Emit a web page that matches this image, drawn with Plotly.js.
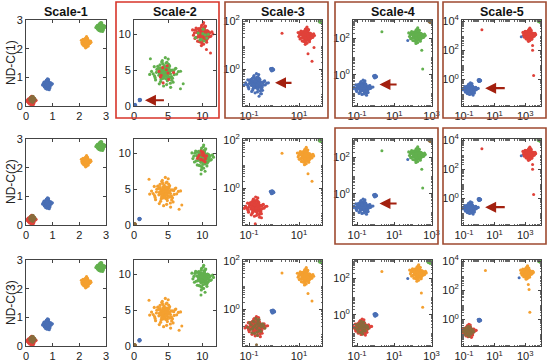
<!DOCTYPE html>
<html><head><meta charset="utf-8">
<script src="https://cdn.plot.ly/plotly-3.0.1.min.js"></script>
<style>html,body{margin:0;padding:0;background:#fff}#chart{width:550px;height:363px}</style>
</head><body><div id="chart"></div>
<script>
// ---------------- data ----------------
const COL_TITLES = ['Scale-1','Scale-2','Scale-3','Scale-4','Scale-5'];
const ROW_LABELS = ['ND-C(1)','ND-C(2)','ND-C(3)'];
const AX_TYPE = ['linear','linear','log','log','log'];
const X_RANGE = [[0,3],[0,12],[-1.24,1.92],[-1.22,3.02],[-1.13,4.03]];
const Y_RANGE = [[0,3],[0,12],[-1.5,2.03],[-1.73,3.03],[-1.82,4.07]];
const X_TICKVALS = [[0,1,2,3],[0,5,10],[0.1,10],[0.1,10,1000],[0.1,10,1000]];
const X_TICKTEXT = [['0','1','2','3'],['0','5','10'],['10<sup>-1</sup>','10<sup>1</sup>'],
  ['10<sup>-1</sup>','10<sup>1</sup>','10<sup>3</sup>'],['10<sup>-1</sup>','10<sup>1</sup>','10<sup>3</sup>']];
const Y_TICKVALS = [[0,1,2,3],[0,5,10],[1,100],[1,100],[1,100,10000]];
const Y_TICKTEXT = [['0','1','2','3'],['0','5','10'],['10<sup>0</sup>','10<sup>2</sup>'],
  ['10<sup>0</sup>','10<sup>2</sup>'],['10<sup>0</sup>','10<sup>2</sup>','10<sup>4</sup>']];

// hand-read scatter shape of one cluster (normalised offsets)
const OFF_X = [0.05,-0.12,0.31,-0.44,0.18,0.62,-0.71,0.09,-0.25,0.47,
  -0.03,0.22,-0.58,0.39,-0.17,0.83,-0.36,0.11,-0.92,0.27,
  0.54,-0.08,-0.49,0.71,0.02,-0.29,0.15,-0.64,0.43,-0.19,
  0.36,-0.05,0.58,-0.81,0.24,-0.41,0.07,0.95,-0.33,0.13,
  -0.55,0.66,-0.14,0.29,-0.73,0.48,-0.02,0.19,-0.38,0.77,
  -0.26,0.34,-0.1,0.52,-0.67,0.04,1.1,-1.05,0.41,-0.21,
  0.02,-0.06,0.1,-0.13,0.07,-0.01,0.15,-0.09,0.04,-0.17,
  0.12,-0.04,0.08,-0.11,0.0,0.18,-0.15,0.06,-0.07,0.13];
const OFF_Y = [0.21,-0.35,0.08,0.27,-0.52,0.14,-0.19,0.66,-0.41,-0.23,
  0.49,0.37,0.05,-0.68,0.82,-0.07,0.32,-0.13,0.11,0.58,
  -0.34,-0.86,0.44,0.26,-0.21,-0.57,0.71,-0.46,0.17,0.03,
  -0.29,0.39,-0.61,-0.05,0.93,-0.14,-0.38,0.09,0.55,-0.77,
  0.24,-0.11,0.62,0.35,0.42,-0.48,-0.18,0.15,-0.72,0.31,
  0.06,0.47,-0.27,0.2,-0.31,1.02,0.12,-0.09,-0.95,0.74,
  -0.05,0.09,0.03,-0.12,0.14,-0.08,0.01,0.06,-0.16,0.11,
  -0.02,0.17,-0.1,0.04,0.12,-0.07,0.02,-0.14,0.08,0.0];
// dense core of a cluster (normalised offsets)
const CORE_X = [0.1,-0.2,0.25,-0.3,0.05,0.35,-0.1,0.18,-0.28,0.3,-0.05,0.12,-0.38,0.22,-0.15,0.4,-0.22,0.0,-0.12,0.28,
  0.15,-0.32,0.08,-0.18,0.33,-0.02,0.2,-0.25,0.1,-0.08];
const CORE_Y = [-0.15,0.2,0.28,-0.1,0.32,-0.25,0.05,-0.35,0.18,0.1,-0.3,0.38,0.02,-0.2,0.25,-0.05,-0.28,0.15,0.4,0.3,
  -0.38,0.35,0.12,-0.12,-0.02,0.22,0.08,-0.02,-0.08,0.28];

// clusters per panel: [class, centreX, centreY, spreadX, spreadY, count, swap]  (log panels: log10 units)
const LIN1 = [['red',0.2,0.18,0.16,0.15,60,0],['brown',0.24,0.24,0.12,0.12,30,1],['blue',0.8,0.75,0.17,0.19,60,0],
  ['orange',2.25,2.22,0.18,0.18,60,1],['green',2.8,2.75,0.17,0.16,60,0]];
const P12 = [['blue',0.15,0.12,0.15,0.15,8,0],['blue',0.85,0.85,0.15,0.15,8,1],['green',4.5,4.6,2.1,2.1,80,0],
  ['red',4.6,4.5,1.8,1.8,10,1],['red',10.0,10.0,1.5,1.5,80,1],['green',10.0,9.8,1.4,1.4,10,0]];
const P13 = [['blue',-0.72,-0.6,0.45,0.42,80,0],['blue',-0.08,0.0,0.08,0.08,15,1],['red',1.28,1.38,0.33,0.33,80,1],['green',1.9,1.97,0.1,0.1,20,0]];
const P14 = [['blue',-0.7,-0.73,0.5,0.42,80,0],['blue',-0.04,-0.1,0.1,0.1,15,1],['green',2.2,2.15,0.45,0.4,80,1],['brown',2.95,2.95,0.1,0.1,20,0]];
const P15 = [['blue',-0.6,-0.67,0.48,0.42,80,0],['blue',0.0,-0.07,0.1,0.1,15,1],['red',3.25,3.05,0.42,0.42,80,1],['green',3.95,4.0,0.12,0.12,20,0]];
const P22 = [['brown',0.1,0.1,0.15,0.15,8,0],['blue',0.8,0.85,0.15,0.15,8,1],['orange',4.5,4.5,2.1,2.1,80,0],
  ['green',10.0,9.4,1.6,1.6,80,1],['red',10.0,9.5,1.0,1.0,15,0]];
const P23 = [['red',-0.75,-0.78,0.42,0.42,80,0],['blue',-0.08,-0.15,0.09,0.09,15,1],['orange',1.25,1.32,0.33,0.33,80,1],['green',1.9,1.97,0.1,0.1,20,0]];
const P32 = [['brown',0.1,0.1,0.15,0.15,8,0],['blue',0.8,0.8,0.15,0.15,8,1],['orange',4.5,4.5,2.1,2.1,80,0],['green',10.0,9.5,1.6,1.6,80,1]];
const P33 = [['red',-0.72,-0.72,0.42,0.42,80,0],['brown',-0.7,-0.7,0.4,0.4,30,1],['blue',-0.05,-0.08,0.09,0.09,15,1],
  ['orange',1.25,1.35,0.33,0.33,80,1],['green',1.9,1.97,0.1,0.1,20,0]];
const P34 = [['red',-0.75,-0.7,0.48,0.45,80,0],['brown',-0.75,-0.7,0.42,0.4,30,1],['blue',-0.02,0.0,0.1,0.1,15,1],
  ['orange',2.25,2.3,0.45,0.42,80,1],['green',2.9,2.92,0.1,0.1,20,0]];
const P35 = [['red',-0.7,-0.8,0.45,0.45,80,0],['brown',-0.7,-0.8,0.4,0.4,30,1],['blue',0.0,-0.05,0.1,0.1,15,1],
  ['orange',3.1,3.2,0.42,0.42,80,1],['green',3.97,4.0,0.12,0.12,20,0]];
const PANEL_CLUSTERS = [[LIN1,P12,P13,P14,P15],[LIN1,P22,P23,P14,P15],[LIN1,P32,P33,P34,P35]];

// isolated points: [class, x, y]
const OUT12 = [['green',7.2,3.1],['green',6.8,2.4],['red',11.2,7.4],['red',10.6,7.9],['green',2.4,6.6]];
const OUT22 = [['orange',7.0,2.8],['orange',6.6,2.2],['green',10.4,7.5],['green',9.8,7.1],['orange',2.2,6.4]];
const OUT13 = [['red',0.32,1.49],['red',1.36,0.64],['red',1.52,0.34],['red',1.6,0.9],['blue',-0.6,-1.1],['blue',-0.5,-1.0]];
const OUT14 = [['green',0.33,2.38],['green',2.47,1.35],['green',2.52,0.32],['blue',1.72,1.9]];
const OUT15 = [['red',0.17,3.4],['red',3.48,2.33],['red',3.48,2.0],['red',3.55,0.27],['blue',2.74,2.93]];
const OUT23 = [['orange',0.32,1.45],['orange',1.36,0.6],['orange',1.52,0.3],['red',-0.75,-1.45],['red',-0.5,-1.2]];
const OUT33 = [['orange',0.32,1.5],['orange',1.36,0.65],['orange',1.52,0.35],['brown',-0.7,-1.45]];
const OUT34 = [['orange',0.33,2.4],['orange',2.45,1.2],['orange',2.52,0.42],['blue',1.72,2.0]];
const OUT35 = [['orange',0.4,3.35],['orange',3.2,2.4],['orange',3.25,2.05],['orange',3.3,0.5],['blue',2.6,2.85]];
const PANEL_OUTLIERS = [[[],OUT12,OUT13,OUT14,OUT15],[[],OUT22,OUT23,OUT14,OUT15],[[],OUT22,OUT33,OUT34,OUT35]];

// arrows: [row, col, tailX, headX, y]
const ARROWS = [[0,1,4.6,1.6,0.8],[0,2,0.76,0.04,-0.55],[0,3,1.2,0.2,-0.54],[0,4,1.76,0.38,-0.6],
  [1,3,1.2,0.2,-0.54],[1,4,1.76,0.38,-0.6]];

// ---------------- style ----------------
const COLORS = {blue:'#4a6fb5',red:'#e0423a',orange:'#f4a030',green:'#62b04e',brown:'#8a6b3c'};
const COLS_PX = [[26,106],[134,216],[243,322],[353,432],[462,541]];
const ROWS_PX = [[20,106],[139,225],[260,346]];
const W = 550, H = 363;
const BOXES = [[0,1,'#d8352a'],[0,2,'#9e4a30'],[0,3,'#9e4a30'],[0,4,'#9e4a30'],[1,3,'#9e4a30'],[1,4,'#9e4a30']];
const BOX_COLS_PX = [null,[116,219],[225,328],[335,438],[443,546]];
const BOX_ROWS_PX = [[2,118],[128,244]];

function minorVals(range) {
  const out = [];
  for (let k = Math.floor(range[0]); k <= Math.ceil(range[1]); k++)
    for (let m = 2; m <= 9; m++) {
      const v = m * Math.pow(10, k), lv = Math.log10(v);
      if (lv > range[0] && lv < range[1]) out.push(v);
    }
  return out;
}

const traces = [];
const layout = {
  width: W, height: H, margin:{l:0,r:0,t:0,b:0}, paper_bgcolor:'#fff', plot_bgcolor:'#fff',
  showlegend:false, font:{family:'"Liberation Sans", Arial, sans-serif', size:11, color:'#222'},
  annotations:[], shapes:[]
};

for (let r = 0; r < 3; r++) {
  for (let c = 0; c < 5; c++) {
    const k = r*5 + c + 1;
    const xa = 'x' + (k>1?k:''), ya = 'y' + (k>1?k:'');
    const isLog = AX_TYPE[c] === 'log';
    const axBase = {type:AX_TYPE[c], showline:true, mirror:'ticks', linecolor:'#444', linewidth:1,
      ticks:'inside', ticklen:3, tickcolor:'#444', showgrid:false, zeroline:false, fixedrange:true,
      tickfont:{size:11, color:'#222'}};
    const xax = Object.assign({}, axBase, {
      domain:[COLS_PX[c][0]/W, COLS_PX[c][1]/W], anchor:ya, range:X_RANGE[c],
      tickmode:'array', tickvals:X_TICKVALS[c], ticktext:X_TICKTEXT[c]});
    const yax = Object.assign({}, axBase, {
      domain:[1-ROWS_PX[r][1]/H, 1-ROWS_PX[r][0]/H], anchor:xa, range:Y_RANGE[c],
      tickmode:'array', tickvals:Y_TICKVALS[c], ticktext:Y_TICKTEXT[c]});
    if (isLog) {
      xax.minor = {ticks:'inside', ticklen:1.5, tickcolor:'#666', showgrid:false, tickmode:'array', tickvals:minorVals(X_RANGE[c])};
      yax.minor = {ticks:'inside', ticklen:1.5, tickcolor:'#666', showgrid:false, tickmode:'array', tickvals:minorVals(Y_RANGE[c])};
    }
    layout['xaxis'+(k>1?k:'')] = xax;
    layout['yaxis'+(k>1?k:'')] = yax;
    const tf = v => isLog ? Math.pow(10, v) : v;
    PANEL_CLUSTERS[r][c].forEach(cl => {
      const [cls, cx, cy, sx, sy, n, sw] = cl;
      const xs = [], ys = [];
      for (let i = 0; i < n; i++) {
        const ox = sw ? OFF_Y[i] : OFF_X[i], oy = sw ? OFF_X[i] : OFF_Y[i];
        xs.push(tf(cx + sx*ox)); ys.push(tf(cy + sy*oy));
      }
      if (n >= 60) {
        for (let i = 0; i < CORE_X.length; i++) {
          const ox = sw ? CORE_Y[i] : CORE_X[i], oy = sw ? CORE_X[i] : CORE_Y[i];
          xs.push(tf(cx + sx*ox)); ys.push(tf(cy + sy*oy));
        }
      }
      traces.push({type:'scatter', mode:'markers', x:xs, y:ys, xaxis:xa, yaxis:ya, cliponaxis:true,
        marker:{size:3.2, color:COLORS[cls], line:{width:0}}, hoverinfo:'skip'});
    });
    const outs = PANEL_OUTLIERS[r][c];
    if (outs.length) {
      traces.push({type:'scatter', mode:'markers', x:outs.map(o=>tf(o[1])), y:outs.map(o=>tf(o[2])),
        xaxis:xa, yaxis:ya, marker:{size:3, color:outs.map(o=>COLORS[o[0]])}, hoverinfo:'skip'});
    }
  }
}

COL_TITLES.forEach((t, c) => {
  layout.annotations.push({text:'<b>'+t+'</b>', xref:'paper', yref:'paper',
    x:(COLS_PX[c][0]+COLS_PX[c][1])/2/W, y:1-12/H, showarrow:false, xanchor:'center', yanchor:'middle',
    font:{size:12.5, color:'#111'}});
});
ROW_LABELS.forEach((t, r) => {
  layout.annotations.push({text:t, xref:'paper', yref:'paper', x:11/W, y:1-(ROWS_PX[r][0]+ROWS_PX[r][1])/2/H,
    showarrow:false, textangle:-90, xanchor:'center', yanchor:'middle', font:{size:12, color:'#222'}});
});
ARROWS.forEach(a => {
  const [r, c, tx, hx, y] = a;
  const k = r*5 + c + 1;
  const xa = 'x' + (k>1?k:''), ya = 'y' + (k>1?k:'');
  layout.annotations.push({x:hx, y:y, ax:tx, ay:y, xref:xa, yref:ya, axref:xa, ayref:ya,
    showarrow:true, arrowhead:2, arrowsize:1, arrowwidth:2.2, arrowcolor:'#a3200f', text:''});
});
BOXES.forEach(b => {
  const [r, c, col] = b;
  layout.shapes.push({type:'rect', xref:'paper', yref:'paper',
    x0:BOX_COLS_PX[c][0]/W, x1:BOX_COLS_PX[c][1]/W, y0:1-BOX_ROWS_PX[r][1]/H, y1:1-BOX_ROWS_PX[r][0]/H,
    line:{color:col, width:1.6}, fillcolor:'rgba(0,0,0,0)'});
});

Plotly.newPlot('chart', traces, layout, {staticPlot:true, displayModeBar:false});
</script>
</body></html>
